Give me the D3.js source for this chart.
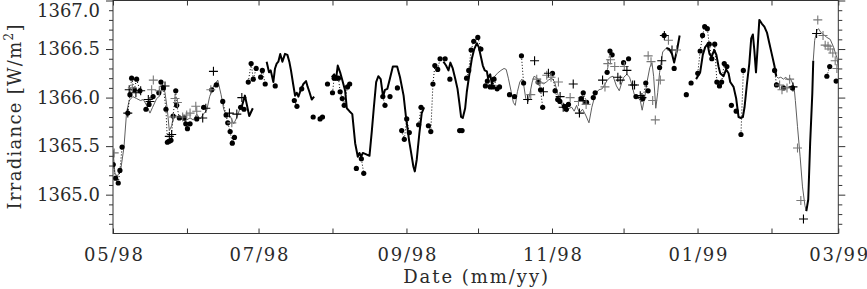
<!DOCTYPE html>
<html><head><meta charset="utf-8">
<script src="https://cdn.jsdelivr.net/npm/d3@7"></script>
<style>
body{margin:0;background:#fff}
svg{display:block}
</style>
</head><body>
<svg id="chart" width="867" height="289"></svg>
<script>
// ---------------- DATA (days since 1998-05-01, irradiance W/m^2) ----------------
const startDate = "1998-05-01";
const endDate = "1999-03-01";
const yDomain = [1364.6, 1367.0];
const yMajorTicks = [1365.0, 1365.5, 1366.0, 1366.5, 1367.0];
const yMinorTicks = [1364.7,1364.8,1364.9,1365.1,1365.2,1365.3,1365.4,1365.6,1365.7,1365.8,1365.9,1366.1,1366.2,1366.3,1366.4,1366.6,1366.7,1366.8,1366.9];
const xTickLabels = ["05/98","","07/98","","09/98","","11/98","","01/99","","03/99"];
const yTitle = "Irradiance [W/m";
const xTitle = "Date (mm/yy)";

// filled circles (daily measurements)
const dotDays = [0.1,1.1,2.2,2.9,3.8,6.2,7.1,7.8,8.9,9.9,
11.3,13.8,15.1,16.8,19.2,20.1,21.1,22.2,22.8,23.6,
24.3,25.2,26.3,26.7,27.8,29.9,30.5,31.2,32.3,35.1,
38.0,41.4,43.3,46.0,47.4,48.1,49.1,50.0,50.9,53.5,
54.9,56.7,57.9,58.8,60.0,61.9,62.6,63.8,68.0,76.0,
77.1,79.1,83.9,86.8,87.8,89.9,92.0,92.7,93.7,94.5,
95.2,96.1,96.9,98.3,99.2,102.0,104.1,105.1,113.1,114.0,
116.1,119.2,121.0,122.1,123.1,124.2,128.1,129.1,132.2,133.2,
134.1,134.9,136.1,137.1,139.2,141.2,145.3,146.3,148.2,149.1,
150.1,151.2,152.9,154.2,156.1,156.9,158.1,159.2,159.7,161.0,
162.0,166.2,168.3,171.2,172.1,178.2,179.2,180.1,184.2,185.3,
186.4,187.3,189.2,190.0,190.9,196.2,197.1,198.5,201.3,202.1,
207.1,208.3,209.2,214.0,216.1,219.2,222.1,223.3,224.3,229.1,
231.0,235.2,240.3,242.3,245.1,246.1,247.1,248.0,249.1,249.9,
251.0,252.2,253.1,254.2,255.1,256.2,257.3,259.2,261.2,263.2,
264.2,277.3,278.1,281.0,284.8,299.2,300.4,303.1];
const dotVals = [1365.31,1365.17,1365.12,1365.25,1365.49,1365.84,1366.03,1366.20,1366.08,1366.19,
1366.07,1365.88,1365.93,1366.01,1366.05,1366.16,1366.10,1365.88,1365.54,1365.55,
1365.56,1365.81,1366.07,1365.92,1365.79,1365.79,1365.73,1365.68,1365.73,1365.78,
1365.90,1366.08,1366.13,1365.96,1365.82,1365.74,1365.65,1365.53,1365.59,1365.90,
1365.88,1366.16,1366.35,1366.19,1366.30,1366.21,1366.28,1366.14,1366.12,1365.97,
1365.91,1366.09,1365.80,1365.78,1365.80,1366.14,1366.05,1366.20,1366.20,1366.20,
1366.06,1365.99,1365.92,1366.11,1366.14,1365.27,1365.37,1365.22,1366.01,1365.92,
1366.01,1366.10,1365.66,1365.57,1365.78,1365.64,1365.72,1365.90,1365.71,1365.65,
1366.14,1366.33,1366.29,1366.40,1366.40,1366.19,1365.66,1365.66,1366.20,1366.28,
1366.49,1366.58,1366.62,1366.50,1366.12,1366.17,1366.11,1366.11,1366.19,1366.09,
1366.11,1366.03,1366.01,1366.43,1366.15,1366.16,1366.08,1365.90,1366.25,1366.07,
1365.98,1365.96,1365.91,1365.88,1365.93,1365.99,1366.05,1365.95,1366.00,1366.05,
1366.26,1366.48,1366.44,1366.36,1366.40,1366.01,1365.99,1366.15,1366.07,1366.31,
1366.64,1366.30,1366.03,1366.15,1366.25,1366.48,1366.64,1366.73,1366.71,1366.55,
1366.40,1366.55,1366.16,1366.12,1366.16,1366.35,1366.32,1365.92,1365.86,1365.62,
1366.28,1366.28,1366.13,1366.10,1366.10,1366.22,1366.32,1366.17];

// thick black curve (null = gap)
const thickDays = [53.9,55.3,57.1,58.6,null,
64.4,65.4,66.1,67.2,67.9,68.6,69.3,70.1,71.0,72.1,73.1,73.9,74.6,75.5,76.3,77.0,77.7,78.7,79.8,80.9,81.6,82.3,83.3,84.3,null,
91.7,92.7,93.5,94.2,95.2,96.1,97.3,98.0,99.1,100.3,101.5,102.6,103.3,104.0,104.7,105.7,107.5,108.5,109.3,110.3,111.2,112.2,113.2,114.0,115.0,116.1,117.3,119.1,120.3,121.8,122.8,124.1,124.9,125.9,126.5,127.3,128.4,129.4,130.4,null,
138.5,139.6,140.6,141.4,142.4,143.4,144.4,145.2,145.9,146.6,147.6,148.3,149.3,150.4,151.4,152.5,153.3,154.2,155.0,155.8,156.7,157.2,158.1,158.8,159.7,null,
231.9,233.1,234.3,235.2,236.4,237.5,null,
244.4,246.1,247.2,248.2,249.2,250.0,250.9,252.0,252.9,253.8,254.5,255.9,257.0,258.0,258.7,260.1,261.2,262.2,263.2,264.0,264.7,265.7,266.7,267.5,268.2,268.8,269.5,270.2,270.9,272.0,273.0,274.1,275.1,276.2,277.2,278.0,null,
290.6,291.4,292.2,293.1,293.5];
const thickVals = [1365.90,1366.02,1365.81,1365.89,null,
1366.37,1366.26,1366.28,1366.16,1366.30,1366.35,1366.37,1366.45,1366.37,1366.45,1366.44,1366.37,1366.28,1366.14,1366.02,1366.05,1366.01,1366.08,1366.14,1366.17,1366.11,1366.06,1365.98,1366.01,null,
1366.21,1366.24,1366.19,1366.33,1366.26,1366.18,1366.07,1365.89,1365.86,1365.83,1365.53,1365.39,1365.43,1365.39,1365.43,1365.42,1365.40,1365.66,1365.89,1366.16,1366.22,1366.19,1366.01,1366.08,1366.09,1366.20,1366.32,1366.32,1366.21,1366.02,1365.80,1365.56,1365.44,1365.29,1365.24,1365.36,1365.63,1365.84,1365.90,null,
1366.37,1366.33,1366.28,1366.36,1366.30,1366.20,1366.09,1365.94,1365.80,1365.79,1365.89,1366.06,1366.23,1366.40,1366.50,1366.56,1366.52,1366.42,1366.33,1366.28,1366.27,1366.20,1366.24,1366.14,1366.21,null,
1366.51,1366.50,1366.45,1366.36,1366.49,1366.64,null,
1366.19,1366.26,1366.44,1366.52,1366.55,1366.45,1366.42,1366.49,1366.44,1366.32,1366.25,1366.22,1366.29,1366.25,1366.16,1366.11,1365.99,1365.80,1365.79,1365.80,1365.90,1366.14,1366.35,1366.61,1366.65,1366.49,1366.26,1366.52,1366.80,1366.76,1366.73,1366.67,1366.56,1366.44,1366.33,1366.22,null,
1364.83,1364.95,1365.53,1366.04,1366.38];

// thin grey curve (null = gap)
const thinDays = [0,0.8,1.8,3.2,4.6,5.7,6.8,8.3,9.9,11.5,12.7,14.1,15.5,16.6,18.3,19.7,20.8,21.8,22.8,23.6,24.6,25.4,26.7,28.4,30.2,32.3,33.7,35.1,36.5,37.9,39.3,40.5,42.2,43.9,45.3,46.4,47.7,49.1,50.6,52.0,53.5,53.9,null,
159.7,161.1,162.6,163.9,164.8,165.7,166.9,167.8,168.6,169.5,170.5,171.4,172.2,173.0,174.0,174.8,175.7,176.5,177.8,179.2,180.4,181.6,182.5,183.9,185.1,186.4,187.6,189.1,190.2,191.2,192.3,193.3,194.3,195.5,196.8,198.1,199.5,200.7,202.1,203.6,205.0,206.0,207.2,208.4,209.6,211.0,212.2,213.2,214.1,215.4,216.5,217.5,218.5,219.6,221.0,221.8,222.9,223.9,225.0,225.9,226.6,227.5,228.3,229.1,230.4,231.9,null,
278.0,278.8,279.9,281.0,282.0,282.9,283.8,284.8,285.5,286.0,286.9,288.0,289.0,290.0,290.6,null,
293.5,294.1,295.0,295.7,296.7,297.8,299.2,300.6,302.0,303.4,304.1];
const thinVals = [1365.46,1365.22,1365.19,1365.25,1365.49,1365.85,1365.97,1366.01,1365.99,1365.97,1365.98,1365.92,1365.84,1365.90,1365.99,1366.02,1366.14,1366.05,1365.87,1365.66,1365.71,1365.82,1365.81,1365.78,1365.76,1365.79,1365.77,1365.83,1365.78,1365.83,1365.87,1366.01,1366.12,1366.18,1366.03,1365.88,1365.80,1365.81,1365.73,1365.80,1365.91,1365.90,null,
1366.21,1366.25,1366.28,1366.30,1366.29,1366.20,1366.06,1365.95,1365.92,1366.06,1366.16,1366.19,1366.12,1365.99,1365.96,1366.05,1366.16,1366.22,1366.20,1366.17,1366.14,1366.16,1366.18,1366.20,1366.16,1366.04,1365.94,1365.89,1365.85,1365.89,1365.90,1365.86,1365.92,1365.84,1365.88,1365.82,1365.74,1365.90,1366.03,1366.08,1366.09,1366.13,1366.18,1366.21,1366.22,1366.12,1366.07,1366.15,1366.21,1366.24,1366.21,1366.13,1366.03,1366.01,1365.97,1365.87,1366.01,1366.17,1366.31,1366.36,1366.22,1365.89,1366.05,1366.26,1366.47,1366.51,null,
1366.22,1366.20,1366.21,1366.19,1366.21,1366.18,1366.20,1366.15,1366.10,1365.97,1365.70,1365.39,1365.08,1364.89,1364.83,null,
1366.38,1366.59,1366.69,1366.71,1366.67,1366.65,1366.62,1366.60,1366.52,1366.41,1366.31];

// plus symbols (k = black, g = grey)
const plusDays = [0.5,6.2,6.8,8.1,9.6,11.6,14.8,15.5,16.2,16.9,
19.4,21.8,23.6,24.6,25.3,26.0,27.0,29.2,30.9,32.3,
34.7,35.1,37.6,38.9,41.0,42.1,48.8,49.8,51.9,54.0,
173.8,175.1,176.7,177.6,179.0,180.4,181.8,182.5,183.6,186.7,
187.4,188.7,191.6,192.9,195.1,195.5,197.1,198.3,205.2,206.2,
207.4,208.5,210.3,211.6,212.6,214.3,215.4,217.8,218.6,221.0,
221.7,224.3,225.5,226.2,227.3,229.4,230.0,231.1,232.8,234.3,
236.2,279.4,280.4,282.5,283.6,285.0,286.9,288.3,289.4,295.4,
294.9,297.6,298.5,299.7,300.6,301.7,302.7,303.4];
const plusVals = [1365.43,1365.84,1366.08,1366.10,1366.05,1366.07,1365.98,1365.96,1366.08,1366.18,
1366.07,1366.12,1365.60,1365.62,1365.80,1365.99,1365.95,1365.80,1365.82,1365.84,
1365.91,1365.86,1365.79,1365.89,1366.08,1366.27,1365.84,1365.74,1365.83,1366.00,
1365.98,1366.03,1366.38,1366.19,1366.15,1366.06,1366.23,1366.25,1366.21,1366.16,
1366.01,1365.90,1366.00,1366.14,1365.96,1365.84,1365.97,1365.93,1366.18,1366.11,
1366.35,1366.39,1366.32,1366.21,1366.18,1366.32,1366.28,1366.13,1366.13,1366.02,
1366.00,1366.43,1366.37,1365.97,1365.77,1366.18,1366.38,1366.64,1366.59,1366.49,
1366.49,1366.13,1366.08,1366.10,1366.19,1366.11,1365.48,1364.94,1364.75,1366.80,
1366.66,1366.64,1366.54,1366.53,1366.50,1366.46,1366.38,1366.30];
const plusTone = ["g","k","k","g","k","k","k","k","g","g",
"g","k","k","k","g","g","g","g","g","g",
"g","g","k","k","g","k","k","g","k","k",
"k","g","k","g","g","k","g","k","g","g",
"k","k","g","k","g","k","k","g","k","g",
"g","g","g","k","k","g","k","k","k","k",
"k","g","g","g","g","g","k","k","g","k",
"g","g","g","g","g","k","g","g","k","g",
"k","g","g","g","g","g","g","g"];

// ---------------- DRAWING ----------------
const svg = d3.select("#chart");
const X0 = 113, X1 = 838.3, Y0 = 0.5, Y1 = 233.5;
const dayMs = 864e5;
const t0 = new Date(startDate + "T00:00:00Z");
const toDate = d => new Date(t0.getTime() + d * dayMs);
const x = d3.scaleUtc().domain([t0, new Date(endDate + "T00:00:00Z")]).range([X0, X1]);
const y = d3.scaleLinear().domain(yDomain).range([Y1, Y0]);
const FONT = "'DejaVu Serif', serif";
const INK = "#2a2a2a";

svg.append("defs").append("clipPath").attr("id", "clip")
  .append("rect").attr("x", X0).attr("y", Y0).attr("width", X1 - X0).attr("height", Y1 - Y0);
const plot = svg.append("g").attr("clip-path", "url(#clip)");

function seriesLine(days, vals) {
  return d3.line()
    .defined(i => vals[i] !== null && days[i] !== null)
    .x(i => x(toDate(days[i])))
    .y(i => y(vals[i]))(d3.range(days.length));
}

// thin grey curve
plot.append("path").attr("d", seriesLine(thinDays, thinVals))
  .attr("fill", "none").attr("stroke", "#5e5e5e").attr("stroke-width", 1).attr("stroke-linejoin", "round");
// thick black curve
plot.append("path").attr("d", seriesLine(thickDays, thickVals))
  .attr("fill", "none").attr("stroke", "#000").attr("stroke-width", 2).attr("stroke-linejoin", "round");

// dotted connectors between consecutive daily dots
const pairs = d3.range(dotDays.length - 1).filter(i => dotDays[i + 1] - dotDays[i] <= 1.6);
plot.append("g").selectAll("line").data(pairs).join("line")
  .attr("x1", i => x(toDate(dotDays[i]))).attr("y1", i => y(dotVals[i]))
  .attr("x2", i => x(toDate(dotDays[i + 1]))).attr("y2", i => y(dotVals[i + 1]))
  .attr("stroke", "#000").attr("stroke-width", 1).attr("stroke-dasharray", "1,2");

// dots
plot.append("g").selectAll("circle").data(d3.range(dotDays.length)).join("circle")
  .attr("cx", i => x(toDate(dotDays[i]))).attr("cy", i => y(dotVals[i]))
  .attr("r", 2.6).attr("fill", "#000");

// plus symbols
plot.append("g").selectAll("path").data(d3.range(plusDays.length)).join("path")
  .attr("transform", i => `translate(${x(toDate(plusDays[i]))},${y(plusVals[i])})`)
  .attr("d", "M-4.5,0H4.5M0,-4.5V4.5")
  .attr("fill", "none")
  .attr("stroke", i => plusTone[i] === "k" ? "#000" : "#777")
  .attr("stroke-width", 1.1);

// ---------------- AXES ----------------
const monthTicks = d3.utcMonth.range(t0, new Date(x.domain()[1].getTime() + 1));
const styleAxis = g => {
  g.attr("font-family", null).attr("font-size", null);
  g.select(".domain").remove();
  g.selectAll("line").attr("stroke", "#333").attr("stroke-width", 1);
  g.selectAll("text").attr("fill", INK).style("font-family", FONT).style("font-size", "18px");
};

// left
svg.append("g").attr("transform", `translate(${X0},0)`)
  .call(d3.axisLeft(y).tickValues(yMajorTicks).tickSize(7).tickPadding(6).tickFormat(d3.format(".1f")))
  .call(styleAxis)
  .call(g => g.selectAll(".tick text").filter(d => d === yDomain[1]).attr("dy", "0.72em").attr("y", 3.5));
svg.append("g").attr("transform", `translate(${X0},0)`)
  .call(d3.axisLeft(y).tickValues(yMinorTicks).tickSize(4).tickFormat(""))
  .call(styleAxis);
// right
svg.append("g").attr("transform", `translate(${X1},0)`)
  .call(d3.axisRight(y).tickValues(yMajorTicks).tickSize(7).tickFormat(""))
  .call(styleAxis);
svg.append("g").attr("transform", `translate(${X1},0)`)
  .call(d3.axisRight(y).tickValues(yMinorTicks).tickSize(4).tickFormat(""))
  .call(styleAxis);
// bottom
svg.append("g").attr("transform", `translate(0,${Y1})`)
  .call(d3.axisBottom(x).tickValues(monthTicks).tickSizeInner(-5).tickSizeOuter(0).tickPadding(15)
    .tickFormat((d, i) => xTickLabels[i]))
  .call(styleAxis)
  .call(g => g.selectAll("text").filter(function(){ return this.textContent !== ""; })
    .attr("textLength", 59).attr("lengthAdjust", "spacing"));
// top
svg.append("g").attr("transform", `translate(0,${Y0})`)
  .call(d3.axisTop(x).tickValues(monthTicks).tickSizeInner(-5).tickSizeOuter(0).tickFormat(""))
  .call(styleAxis);

// frame
svg.append("rect").attr("x", X0).attr("y", Y0).attr("width", X1 - X0).attr("height", Y1 - Y0)
  .attr("fill", "none").attr("stroke", "#333").attr("stroke-width", 1);

// titles
svg.append("text").attr("x", (X0 + X1) / 2).attr("y", 283)
  .attr("text-anchor", "middle").attr("fill", INK)
  .style("font-family", FONT).style("font-size", "18px")
  .attr("textLength", 145).attr("lengthAdjust", "spacing")
  .text(xTitle);

const yt = svg.append("text")
  .attr("transform", `translate(21,${(Y0 + Y1) / 2}) rotate(-90)`)
  .attr("text-anchor", "middle").attr("fill", INK)
  .style("font-family", FONT).style("font-size", "18px")
  .attr("textLength", 185).attr("lengthAdjust", "spacing");
yt.append("tspan").text(yTitle);
yt.append("tspan").attr("dy", -8).style("font-size", "12px").text("2");
yt.append("tspan").attr("dy", 8).text("]");
</script>
</body></html>
